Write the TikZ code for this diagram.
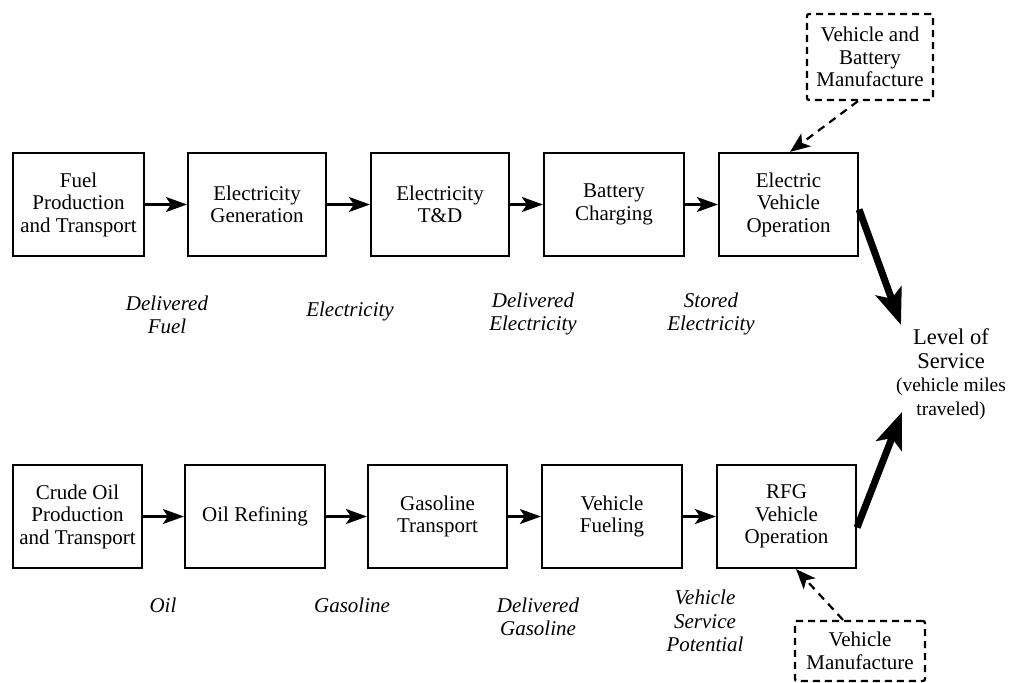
\documentclass[tikz,border=0pt]{standalone}
\usepackage{fontspec}
\setmainfont{Liberation Serif}
\usetikzlibrary{arrows.meta}
\tikzset{
  box/.style={draw, line width=2.2pt, minimum height=103pt, inner sep=0pt, align=center, font=\fontsize{21}{22.5}\selectfont},
  dbox/.style={draw, line width=2.2pt, dash pattern=on 7pt off 5pt, rounded corners=2pt, inner sep=0pt, align=center, font=\fontsize{21}{22.5}\selectfont},
  lab/.style={align=center, inner sep=0pt, font=\fontsize{21}{23.5}\selectfont\itshape},
  flow/.style={line width=2.2pt, -{Stealth[length=21pt,width=15pt,inset=5pt]}},
  dflow/.style={line width=2.2pt, dash pattern=on 8pt off 6pt, -{Stealth[length=20pt,width=16pt,inset=5pt]}},
  big/.style={line width=7pt, -{Stealth[length=36pt,width=27pt,inset=8pt]}},
}
\begin{document}
\begin{tikzpicture}[x=1pt,y=-1pt]
\useasboundingbox (0,0) rectangle (1013,683);
% top row
\node[box, minimum width=131pt] (fuel) at (78.5,204.5) {Fuel\\Production\\and Transport};
\node[box, minimum width=138pt] (gen) at (257,204.5) {Electricity\\Generation};
\node[box, minimum width=138pt] (td) at (440,204.5) {Electricity\\T\&D};
\node[box, minimum width=140pt] (bat) at (614,204.5) {Battery\\Charging};
\node[box, minimum width=139pt] (ev) at (788.5,204.5) {Electric\\Vehicle\\Operation};
% bottom row
\node[box, minimum width=129pt] (crude) at (77.5,516.5) {Crude Oil\\Production\\and Transport};
\node[box, minimum width=140pt] (ref) at (255,516.5) {Oil Refining};
\node[box, minimum width=139pt] (gas) at (437.5,516.5) {Gasoline\\Transport};
\node[box, minimum width=140pt] (fue) at (612,516.5) {Vehicle\\Fueling};
\node[box, minimum width=139pt] (rfg) at (786.5,516.5) {RFG\\Vehicle\\Operation};
% dashed boxes
\node[dbox, minimum width=126pt, minimum height=86pt] (vbm) at (870,57) {Vehicle and\\Battery\\Manufacture};
\node[dbox, minimum width=130pt, minimum height=60pt] (vm) at (860,651) {Vehicle\\Manufacture};
% level of service
\node[align=center, inner sep=0pt, font=\fontsize{22.5}{23.5}\selectfont] (los) at (951,374) {Level of\\Service\\\fontsize{19.5}{23.5}\selectfont (vehicle miles\\\fontsize{19.5}{23.5}\selectfont traveled)};
% labels
\node[lab] (l1) at (167,315) {Delivered\\Fuel};
\node[lab] (l2) at (350,311) {Electricity};
\node[lab] (l3) at (533,314) {Delivered\\Electricity};
\node[lab] (l4) at (711,314) {Stored\\Electricity};
\node[lab] (l5) at (163,605) {Oil};
\node[lab] (l6) at (352,605) {Gasoline};
\node[lab] (l7) at (538,617) {Delivered\\Gasoline};
\node[lab] (l8) at (705,621) {Vehicle\\Service\\Potential};
% flows
\draw[flow] (fuel) -- (gen);
\draw[flow] (gen) -- (td);
\draw[flow] (td) -- (bat);
\draw[flow] (bat) -- (ev);
\draw[flow] (crude) -- (ref);
\draw[flow] (ref) -- (gas);
\draw[flow] (gas) -- (fue);
\draw[flow] (fue) -- (rfg);
% dashed
\draw[dflow] ([xshift=-12pt]vbm.south) -- ([xshift=1.5pt]ev.north);
\draw[dflow] ([xshift=-17pt]vm.north) -- ([xshift=9.5pt]rfg.south);
% big arrows
\draw[big] ([yshift=-5pt]ev.east) -- (901,325);
\draw[big] ([yshift=-11pt]rfg.east) -- (902,412);
\end{tikzpicture}
\end{document}
